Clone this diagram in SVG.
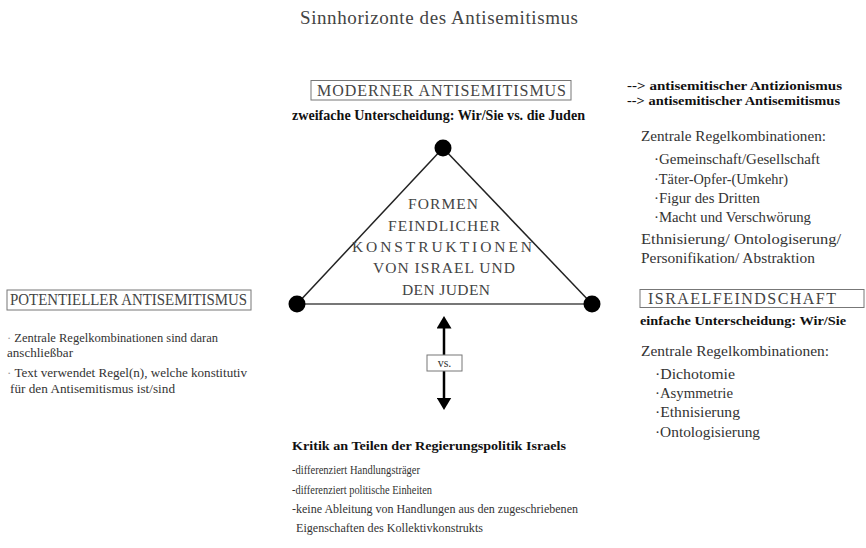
<svg xmlns="http://www.w3.org/2000/svg" width="866" height="548" viewBox="0 0 866 548">
<style>
  text { font-family: "Liberation Serif", "DejaVu Serif", serif; fill: #333; }
  .title { font-size: 19px; fill: #444; }
  .cap { font-size: 16px; fill: #444; }
  .tri { font-size: 15.5px; fill: #444; text-anchor: middle; }
  .b { font-weight: bold; fill: #111; }
  .r { font-size: 14px; }
  .s { font-size: 13.5px; }
  .box { fill: #fff; stroke: #777; stroke-width: 1; }
  .edge { stroke: #222; stroke-width: 1.5; fill: none; }
  .base { stroke: #777; stroke-width: 2; fill: none; }
  .dot { fill: #000; }
</style>
<defs>
  <marker id="ah" viewBox="0 0 10 12" refX="2" refY="6" markerWidth="5" markerHeight="6" orient="auto-start-reverse" markerUnits="strokeWidth">
    <path d="M0,0 L10,6 L0,12 z" fill="#000"/>
  </marker>
</defs>
<rect width="866" height="548" fill="#fff"/>

<text class="title" x="300" y="24" textLength="278">Sinnhorizonte des Antisemitismus</text>

<g id="connectors">
  <line class="edge" x1="443" y1="148" x2="297" y2="304"/>
  <line class="edge" x1="443" y1="148" x2="592" y2="304"/>
  <line class="base" x1="297" y1="304" x2="592" y2="304"/>
  <line x1="444" y1="326" x2="444" y2="400" stroke="#000" stroke-width="2.5" marker-start="url(#ah)" marker-end="url(#ah)"/>
</g>

<g id="center">
  <text class="tri" x="443" y="209" textLength="70">FORMEN</text>
  <text class="tri" x="444" y="231" textLength="112">FEINDLICHER</text>
  <text class="tri" x="442" y="252" textLength="180">KONSTRUKTIONEN</text>
  <text class="tri" x="444" y="273" textLength="142">VON ISRAEL UND</text>
  <text class="tri" x="446" y="295" textLength="88">DEN JUDEN</text>
</g>

<g id="node-top">
  <circle class="dot" cx="443" cy="148" r="8.5"/>
  <rect class="box" x="311" y="80.5" width="260" height="19.5"/>
  <text class="cap" x="317" y="96" textLength="249">MODERNER ANTISEMITISMUS</text>
  <text class="b" x="292" y="120" font-size="14" textLength="293" lengthAdjust="spacingAndGlyphs">zweifache Unterscheidung: Wir/Sie vs. die Juden</text>
</g>

<g id="node-top-right">
  <text class="b" x="627" y="90" font-size="13" textLength="215" lengthAdjust="spacingAndGlyphs">--&gt; antisemitischer Antizionismus</text>
  <text class="b" x="627" y="105" font-size="13" textLength="213" lengthAdjust="spacingAndGlyphs">--&gt; antisemitischer Antisemitismus</text>
  <text class="r" x="641" y="141" textLength="185" lengthAdjust="spacingAndGlyphs">Zentrale Regelkombinationen:</text>
  <text class="r" x="654" y="164" textLength="166" lengthAdjust="spacingAndGlyphs">·Gemeinschaft/Gesellschaft</text>
  <text class="r" x="654" y="184" textLength="134" lengthAdjust="spacingAndGlyphs">·Täter-Opfer-(Umkehr)</text>
  <text class="r" x="654" y="203" textLength="106" lengthAdjust="spacingAndGlyphs">·Figur des Dritten</text>
  <text class="r" x="654" y="222" textLength="157" lengthAdjust="spacingAndGlyphs">·Macht und Verschwörung</text>
  <text class="r" x="641" y="244" textLength="200" lengthAdjust="spacingAndGlyphs">Ethnisierung/ Ontologiserung/</text>
  <text class="r" x="641" y="263" textLength="174" lengthAdjust="spacingAndGlyphs">Personifikation/ Abstraktion</text>
</g>

<g id="node-left">
  <circle class="dot" cx="297" cy="304" r="8.5"/>
  <rect class="box" x="7" y="290" width="244" height="20"/>
  <text class="cap" x="10" y="305" textLength="237" lengthAdjust="spacingAndGlyphs">POTENTIELLER ANTISEMITISMUS</text>
  <text class="s" x="7" y="342" textLength="211" lengthAdjust="spacingAndGlyphs"><tspan fill="#999">·</tspan> Zentrale Regelkombinationen sind daran</text>
  <text class="s" x="7" y="357" textLength="66" lengthAdjust="spacingAndGlyphs">anschließbar</text>
  <text class="s" x="7" y="377" textLength="240" lengthAdjust="spacingAndGlyphs"><tspan fill="#999">·</tspan> Text verwendet Regel(n), welche konstitutiv</text>
  <text class="s" x="10" y="393" textLength="165" lengthAdjust="spacingAndGlyphs">für den Antisemitismus ist/sind</text>
</g>

<g id="node-right">
  <circle class="dot" cx="592" cy="304" r="8.5"/>
  <rect class="box" x="640" y="289.5" width="224" height="18"/>
  <text class="cap" x="648" y="304" textLength="188">ISRAELFEINDSCHAFT</text>
  <text class="b" x="640" y="325" font-size="13.5" textLength="206" lengthAdjust="spacingAndGlyphs">einfache Unterscheidung: Wir/Sie</text>
  <text class="r" x="641" y="356" textLength="188" lengthAdjust="spacingAndGlyphs">Zentrale Regelkombinationen:</text>
  <text class="r" x="655" y="379" textLength="80" lengthAdjust="spacingAndGlyphs">·Dichotomie</text>
  <text class="r" x="655" y="398" textLength="78" lengthAdjust="spacingAndGlyphs">·Asymmetrie</text>
  <text class="r" x="655" y="417" textLength="85" lengthAdjust="spacingAndGlyphs">·Ethnisierung</text>
  <text class="r" x="655" y="437" textLength="105" lengthAdjust="spacingAndGlyphs">·Ontologisierung</text>
</g>

<g id="node-vs">
  <rect class="box" x="427" y="355" width="35" height="16"/>
  <text x="444.5" y="367" font-size="12" text-anchor="middle" fill="#444">vs.</text>
</g>

<g id="node-bottom">
  <text class="b" x="292" y="450" font-size="13" textLength="274" lengthAdjust="spacingAndGlyphs">Kritik an Teilen der Regierungspolitik Israels</text>
  <text class="s" x="292" y="474" textLength="128" lengthAdjust="spacingAndGlyphs">-differenziert Handlungsträger</text>
  <text class="s" x="292" y="494" textLength="140" lengthAdjust="spacingAndGlyphs">-differenziert politische Einheiten</text>
  <text class="s" x="292" y="513" textLength="286" lengthAdjust="spacingAndGlyphs">-keine Ableitung von Handlungen aus den zugeschriebenen</text>
  <text class="s" x="296" y="532" textLength="187" lengthAdjust="spacingAndGlyphs">Eigenschaften des Kollektivkonstrukts</text>
</g>
</svg>
